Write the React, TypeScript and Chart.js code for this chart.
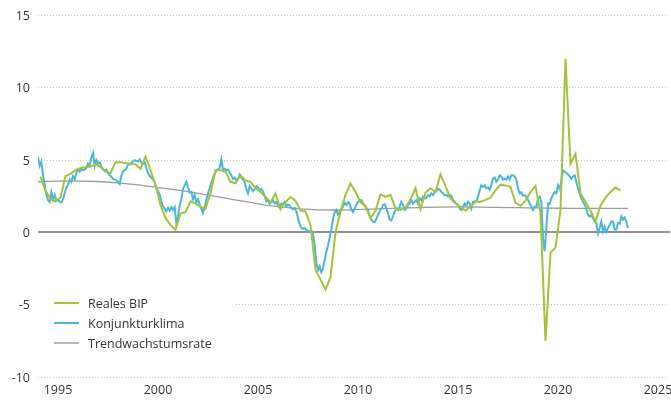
import { useEffect, useRef } from 'react';
import { Chart, registerables } from 'chart.js';

Chart.register(...registerables);

// Konjunkturklima: monthly values starting January 1994
const kkStartYear = 1994;
const kkValues = [
  5.2, 4.6, 4.9, 3.95, 3.3, 2.6, 2.24, 2.1, 2.8, 2.25,
  2.6, 2.2, 2.2, 2.15, 2.08, 2.3, 2.7, 3.1, 3.3, 3.65,
  3.5, 3.9, 3.7, 4.1, 4.35, 4.2, 4.35, 4.3, 4.35, 4.45,
  4.75, 4.6, 5.2, 5.5, 4.6, 5.0, 4.75, 4.85, 4.55, 4.35,
  4.3, 4.35, 4.1, 3.95, 3.85, 3.7, 3.65, 3.6, 3.5, 3.35,
  3.9, 4.2, 4.3, 4.4, 4.7, 4.7, 4.8, 4.9, 5.0, 4.95,
  4.9, 5.05, 4.8, 4.75, 4.85, 4.45, 4.1, 3.9, 3.8, 3.65,
  3.45, 3.05, 2.85, 2.65, 2.15, 1.8, 1.65, 1.45, 1.7, 1.5,
  1.75, 1.55, 1.75, 0.6, 1.1, 1.85, 2.3, 3.0, 3.25, 3.5,
  3.1, 2.75, 2.8, 2.3, 2.6, 2.05, 2.3, 1.95, 1.65, 1.35,
  1.75, 2.25, 2.7, 3.05, 3.45, 3.75, 4.05, 4.3, 4.35, 4.45,
  5.05, 4.35, 4.4, 4.3, 4.35, 4.15, 3.95, 3.7, 3.8, 3.6,
  3.7, 4.0, 3.8, 3.65, 3.45, 3.0, 2.7, 3.2, 3.05, 2.85,
  3.0, 3.2, 3.1, 2.9, 3.0, 2.85, 2.5, 2.15, 2.2, 2.0,
  2.1, 2.2, 2.0, 2.1, 1.87, 1.72, 2.0, 1.95, 2.1, 1.8,
  1.93, 1.85, 1.68, 1.6, 1.7, 1.45, 1.0, 0.55, 0.32, 0.25,
  0.3, 0.18, 0.1, 0.07, 0.15, -0.1, -0.9, -2.1, -2.6, -2.35,
  -2.75, -2.5, -1.9, -1.35, -0.9, -0.35, 0.2, 0.9, 1.4, 1.55,
  1.25, 1.45, 1.6, 1.78, 2.05, 1.9, 2.1, 2.0, 1.6, 1.4,
  1.65, 1.9, 2.12, 2.2, 2.24, 2.0, 1.9, 1.7, 1.55, 1.1,
  0.87, 0.75, 0.7, 0.93, 1.21, 1.44, 1.66, 1.9, 1.95, 1.66,
  1.32, 0.87, 0.82, 1.1, 1.44, 1.66, 1.55, 1.78, 2.12, 1.9,
  1.55, 1.66, 1.9, 2.0, 2.24, 2.0, 2.12, 2.24, 2.0, 2.35,
  2.24, 2.47, 2.35, 2.4, 2.58, 2.5, 2.7, 2.58, 2.8, 2.85,
  3.03, 2.95, 2.8, 2.7, 2.58, 2.6, 2.47, 2.58, 2.55, 2.24,
  2.12, 2.0, 1.9, 1.66, 1.55, 1.78, 2.0, 1.85, 2.12, 2.0,
  1.66, 2.12, 2.15, 2.12, 2.47, 2.9, 3.27, 3.15, 3.27, 3.05,
  3.1, 2.95, 3.27, 3.72, 3.8, 3.5, 3.65, 3.95, 3.87, 3.65,
  3.72, 3.65, 3.87, 3.65, 3.95, 3.95, 3.87, 3.65, 3.03, 2.7,
  2.78, 2.55, 2.58, 2.47, 2.25, 2.0, 1.78, 1.55, 1.78, 1.78,
  2.35, 2.47, 2.1, -0.4, -1.3, 0.3, 2.0, 1.95, 2.35, 2.58,
  2.78, 2.7, 3.27, 3.03, 3.5, 4.3, 4.2, 4.1, 4.0, 3.87,
  3.7, 3.87, 3.95, 3.5, 3.03, 2.7, 2.35, 2.12, 1.9, 1.66,
  1.21, 1.1, 1.21, 0.98, 0.75, 0.64, -0.05, 0.3, 0.75, 0.07,
  0.41, 0.05, 0.3, 0.53, 0.75, 0.75, 0.2, 0.2, 0.64, 0.6,
  1.1, 0.87, 1.03, 0.75, 0.3,
];

// Reales BIP: quarterly values, plotted mid-quarter starting 1994 Q1
const bipStartYear = 1994.125;
const bipValues = [
  3.85, 2.9, 2.3, 2.15, 2.4, 3.9, 4.05, 4.3, 4.45, 4.5,
  4.55, 4.7, 4.55, 4.2, 4.1, 4.85, 4.85, 4.8, 4.75, 4.7,
  4.4, 5.25, 4.3, 3.3, 1.9, 1.0, 0.5, 0.18, 1.3, 1.4,
  2.15, 2.0, 1.75, 1.65, 2.7, 4.3, 4.3, 4.2, 3.5, 3.4,
  3.95, 3.6, 3.5, 3.05, 2.8, 2.45, 2.1, 2.7, 1.6, 2.1,
  2.45, 2.2, 1.5, 1.45, 0.5, -2.6, -3.25, -3.95, -3.1, 0.0,
  1.45, 2.6, 3.38, 2.8, 2.1, 1.8, 1.0, 1.5, 2.63, 2.45,
  2.6, 1.66, 1.55, 1.7, 2.3, 3.05, 1.6, 2.75, 3.05, 2.8,
  4.0, 3.2, 2.35, 2.0, 1.75, 1.5, 1.8, 2.12, 2.12, 2.25,
  2.4, 2.9, 3.3, 3.25, 3.15, 2.05, 1.85, 2.2, 2.8, 3.2,
  1.3, -7.5, -1.4, -1.05, 1.55, 12.0, 4.75, 5.43, 2.7, 2.1,
  1.5, 0.75, 1.85, 2.4, 2.8, 3.1, 2.9,
];

// Trendwachstumsrate: smooth trend
const trendYears = [
  1994, 1995, 1996, 1997, 1998, 1999, 2000, 2001, 2002, 2003,
  2004, 2005, 2006, 2007, 2008, 2009, 2010, 2011, 2012, 2013,
  2014, 2015, 2016, 2017, 2018, 2019, 2020, 2021, 2022, 2023, 2023.5,
];
const trendValues = [
  3.5, 3.55, 3.55, 3.52, 3.42, 3.28, 3.1, 2.92, 2.7, 2.46,
  2.22, 1.98, 1.78, 1.64, 1.56, 1.55, 1.58, 1.63, 1.68, 1.72,
  1.75, 1.76, 1.75, 1.73, 1.71, 1.69, 1.67, 1.66, 1.66, 1.66, 1.66,
];

const xTicks = [1995, 2000, 2005, 2010, 2015, 2020, 2025];
const seriesNames = ['Reales BIP', 'Konjunkturklima', 'Trendwachstumsrate'];
const colors = ['#a5c33a', '#4bb6d5', '#9c9c9c'];
const legendSwatch = ['#a5c33a', '#4bb6d5', '#b8b8b8'];

const FONT = "'Open Sans', sans-serif";
const TEXT = '#333333';

const zeroLinePlugin = {
  id: 'zeroLine',
  beforeDatasetsDraw(chart: any) {
    const { ctx, chartArea, scales } = chart;
    const py = Math.round(scales.y.getPixelForValue(0));
    ctx.save();
    ctx.strokeStyle = '#8e8e8e';
    ctx.lineWidth = 2;
    ctx.beginPath();
    ctx.moveTo(chartArea.left, py);
    ctx.lineTo(chartArea.right + 2, py);
    ctx.stroke();
    ctx.restore();
  },
};

const legendPlugin = {
  id: 'insideLegend',
  afterDatasetsDraw(chart: any) {
    const { ctx, chartArea } = chart;
    const left = chartArea.left;
    const top = 292;
    ctx.save();
    ctx.fillStyle = '#ffffff';
    ctx.fillRect(left, top, 198, 62);
    ctx.font = `12.5px ${FONT}`;
    ctx.textBaseline = 'middle';
    ctx.textAlign = 'left';
    seriesNames.forEach((name, i) => {
      const y = 303 + i * 20;
      ctx.strokeStyle = legendSwatch[i];
      ctx.lineWidth = 2;
      ctx.beginPath();
      ctx.moveTo(54, y);
      ctx.lineTo(79, y);
      ctx.stroke();
      ctx.fillStyle = TEXT;
      ctx.fillText(name, 88, y + 1);
    });
    ctx.restore();
  },
};

export default function App() {
  const ref = useRef<HTMLCanvasElement>(null);
  useEffect(() => {
    if (!ref.current) return;
    const bipData = bipValues.map((v, i) => ({ x: bipStartYear + i * 0.25, y: v }));
    const kkData = kkValues.map((v, i) => ({ x: kkStartYear + i / 12, y: v }));
    const trendData = trendValues.map((v, i) => ({ x: trendYears[i], y: v }));
    const chart = new Chart(ref.current, {
      type: 'line',
      data: {
        datasets: [
          { label: seriesNames[0], data: bipData, borderColor: colors[0], borderWidth: 2, pointRadius: 0, fill: false },
          { label: seriesNames[1], data: kkData, borderColor: colors[1], borderWidth: 2, pointRadius: 0, fill: false },
          {
            label: seriesNames[2], data: trendData, borderColor: colors[2], borderWidth: 1.3, pointRadius: 0,
            fill: false, cubicInterpolationMode: 'monotone',
          },
        ],
      },
      options: {
        animation: false,
        responsive: false,
        devicePixelRatio: 1,
        layout: { padding: { top: 13, right: 3, left: 0, bottom: 0 } },
        plugins: { legend: { display: false }, tooltip: { enabled: false } },
        elements: { point: { radius: 0 }, line: { tension: 0 } },
        scales: {
          x: {
            type: 'linear',
            min: 1994,
            max: 2025.5,
            afterBuildTicks: (s: any) => {
              s.ticks = xTicks.map((v) => ({ value: v }));
            },
            afterFit: (s: any) => {
              s.height = 23;
              s.paddingLeft = 0;
              s.paddingRight = 0;
            },
            grid: { display: false, drawTicks: false },
            border: { display: false },
            ticks: {
              padding: 6,
              color: TEXT,
              font: { family: FONT, size: 12.5 },
              maxRotation: 0,
              autoSkip: false,
              callback: (v: any) => String(v),
            },
          },
          y: {
            min: -10,
            max: 15,
            afterFit: (s: any) => {
              s.width = 38;
            },
            ticks: {
              stepSize: 5,
              padding: 8,
              color: TEXT,
              labelOffset: 1,
              font: { family: FONT, size: 12.5 },
            },
            grid: {
              drawTicks: false,
              lineWidth: 1,
              color: (ctx: any) => (ctx.tick && ctx.tick.value === 0 ? 'rgba(0,0,0,0)' : '#c6c6c6'),
            },
            border: { display: false, dash: [1, 2] },
          },
        },
      },
      plugins: [zeroLinePlugin, legendPlugin],
    } as any);
    return () => chart.destroy();
  }, []);
  return (
    <div style={{ position: 'absolute', left: 0, top: 0, width: 671, height: 400, background: '#ffffff' }}>
      <canvas ref={ref} width={671} height={400} style={{ display: 'block', width: 671, height: 400 }} />
    </div>
  );
}
